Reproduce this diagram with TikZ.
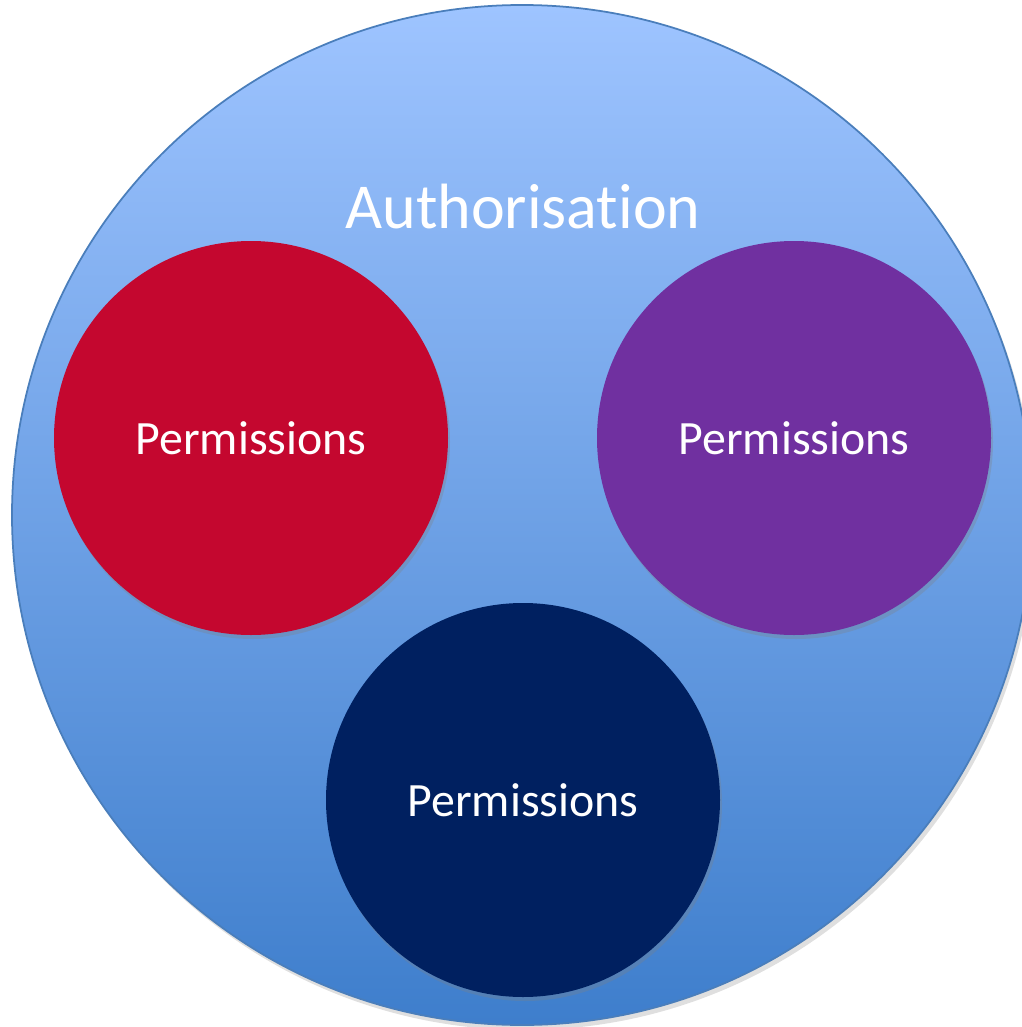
\documentclass[tikz,border=0pt]{standalone}
\usepackage{fontspec}
\setmainfont[Ligatures=NoCommon]{Carlito}
\usetikzlibrary{shadows}
\definecolor{topblue}{RGB}{158,196,255}
\definecolor{botblue}{RGB}{62,126,204}
\definecolor{rimblue}{RGB}{74,126,187}
\definecolor{permred}{RGB}{196,7,47}
\definecolor{permpurple}{RGB}{112,48,160}
\definecolor{permnavy}{RGB}{0,32,96}
\newlength{\xunit}
\setlength{\xunit}{0.01cm}
\tikzset{
  outer/.style={circle, draw=rimblue, line width=0.5pt, top color=topblue, bottom color=botblue, minimum size=1020\xunit, inner sep=0pt,
    drop shadow={shadow xshift=3\xunit, shadow yshift=-5\xunit, opacity=0.25}},
  perm/.style={circle, minimum size=394\xunit, inner sep=0pt, text=white, font=\fontsize{13.6}{16}\selectfont,
    drop shadow={shadow xshift=2\xunit, shadow yshift=-4\xunit, opacity=0.3}},
}
\begin{document}
\begin{tikzpicture}[x=0.01cm, y=-0.01cm]
\useasboundingbox (0,0) rectangle (1022,1027);
\begin{scope}
\clip (0,0) rectangle (1022,1027);
\node[outer] (auth) at (522,515) {};
\node[perm, fill=permred] (p1) at (251,438) {Permissions};
\node[perm, fill=permpurple] (p2) at (794,438) {Permissions};
\node[perm, fill=permnavy] (p3) at (523,800) {Permissions};
\node[text=white, font=\fontsize{18.2}{22}\selectfont] (title) at (523,207) {Authorisation};
\end{scope}
\end{tikzpicture}
\end{document}
